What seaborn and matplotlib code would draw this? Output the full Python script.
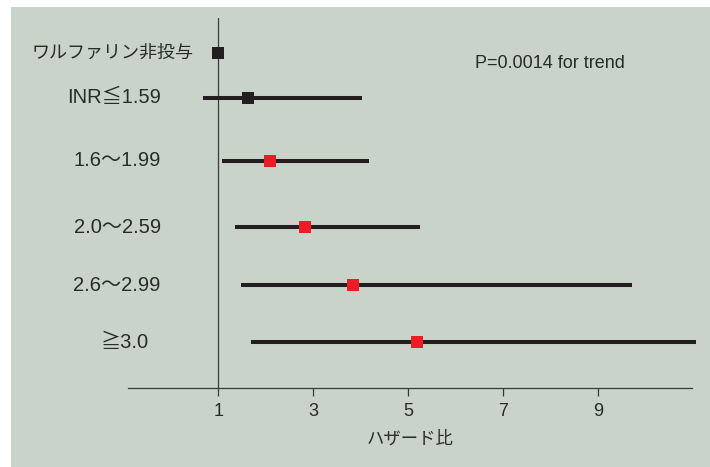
import pandas as pd
import matplotlib.pyplot as plt
import matplotlib.transforms as mtransforms
from matplotlib.patches import Rectangle
import seaborn as sns

# データ
labels = ['ワルファリン非投与', 'INR≦1.59', '1.6〜1.99', '2.0〜2.59', '2.6〜2.99', '≧3.0']
hr = [1.0, 1.63, 2.09, 2.83, 3.84, 5.19]
ci_low = [None, 0.68, 1.08, 1.36, 1.48, 1.69]
ci_high = [None, 4.03, 4.18, 5.25, 9.72, 11.06]
group = ['ref', 'ref', 'inr', 'inr', 'inr', 'inr']
x_ticks = [1, 3, 5, 7, 9]
p_text = 'P=0.0014 for trend'
x_label = 'ハザード比'

# レイアウト: 行の縦位置、ラベル右端 (axes 比率)、文字サイズ
row_pos = [0, 0.75, 1.8, 2.9, 3.87, 4.82]
label_right = [0.117, 0.058, 0.058, 0.058, 0.058, 0.036]
label_size = [13, 14.5, 14.5, 14.5, 14.5, 14.5]

bg = '#c9d3ca'
dark = '#231f20'
red = '#ed1c24'
txt = '#2a2a2a'

sns.set_theme(style='white')
plt.rcParams['font.family'] = ['Liberation Sans', 'Noto Sans CJK JP', 'DejaVu Sans']

df = pd.DataFrame({'label': labels, 'hr': hr, 'lo': ci_low, 'hi': ci_high,
                   'grp': group, 'pos': row_pos})

fig = plt.figure(figsize=(7.1, 4.67), dpi=100)
fig.patch.set_facecolor('white')
fig.patches.append(Rectangle((11 / 710, 0), 1, 460 / 467, transform=fig.transFigure,
                             facecolor=bg, edgecolor='none', zorder=-10))
ax = fig.add_axes([128 / 710, 1 - 388 / 467, 564 / 710, 370 / 467])
ax.set_facecolor('none')

# 信頼区間
ci = df.dropna()
ax.hlines(ci['pos'], ci['lo'], ci['hi'], color=dark, lw=2.9, zorder=2, clip_on=False)

# 点推定
sns.scatterplot(data=df, x='hr', y='pos', hue='grp', palette={'ref': dark, 'inr': red},
                marker='s', s=75, linewidth=0, legend=False, zorder=3, clip_on=False, ax=ax)

ax.axvline(1, color='#3a3a3a', lw=0.9, zorder=1)

ax.set_xlim(-0.9, 10.98)
ax.set_ylim(5.583, -0.583)
ax.set_xticks(x_ticks)
ax.set_xticklabels([str(t) for t in x_ticks], fontsize=13, color=txt)
ax.set_yticks([])
ax.set_xlabel(x_label, fontsize=12.5, color=txt, labelpad=7.5)
ax.set_ylabel('')
ax.tick_params(axis='x', direction='out', length=6, width=0.9, color='#3a3a3a', pad=4.5, bottom=True)

for s in ['top', 'right', 'left']:
    ax.spines[s].set_visible(False)
ax.spines['bottom'].set_color('#3a3a3a')
ax.spines['bottom'].set_linewidth(0.9)

# 行ラベル
trans = mtransforms.blended_transform_factory(ax.transAxes, ax.transData)
for lab, y, xr, fs in zip(labels, row_pos, label_right, label_size):
    ax.text(xr, y, lab, transform=trans, ha='right', va='center',
            fontsize=fs, color=txt)

ax.text(0.615, 0.878, p_text, transform=ax.transAxes, ha='left', va='center',
        fontsize=13, color=txt)

fig.savefig('out.png', dpi=100)
